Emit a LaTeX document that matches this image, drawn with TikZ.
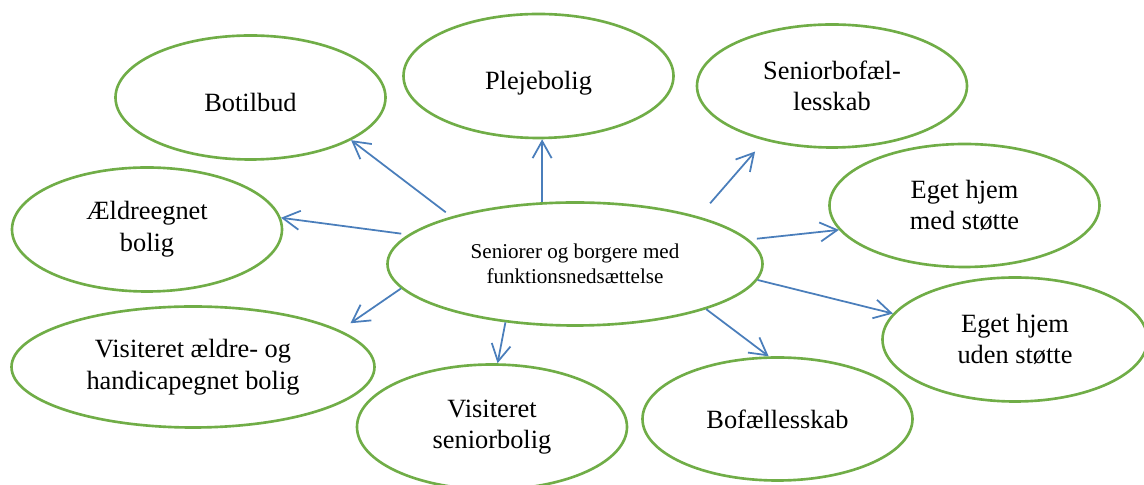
\documentclass[tikz,border=0pt]{standalone}
\usepackage{fontspec}
\setmainfont{Liberation Serif}
\usepackage{tikz}
\usetikzlibrary{shapes.geometric,arrows.meta}
\definecolor{ovalgreen}{RGB}{112,173,71}
\definecolor{arrowblue}{RGB}{74,126,187}

\begin{document}
\begin{tikzpicture}[
        oval/.style={ellipse,draw=ovalgreen,line width=1.5pt,inner sep=0pt,
            minimum width=5.4cm,minimum height=2.48cm,align=center,
            font=\fontsize{15}{18}\selectfont},
        link/.style={draw=arrowblue,line width=1pt,
            -{Straight Barb[length=0.34cm,width=0.38cm]}}]
                \useasboundingbox (0,0) rectangle (22.88,9.7);

                \node[oval] (botilbud) at (5.01,7.75) {\raisebox{-0.1cm}[\height][\depth]{Botilbud}};
                \node[oval] (pleje) at (10.77,8.18) {\raisebox{-0.14cm}[\height][\depth]{Plejebolig}};
                \node[oval,minimum height=2.46cm] (seniorbo) at (16.64,7.98) {Seniorbofæl-\\lesskab};
                \node[oval] (aeldre) at (2.94,5.11) {Ældreegnet\\bolig};
                \node[oval,minimum width=7.5cm,minimum height=2.46cm,
                    font=\fontsize{12}{14.2}\selectfont] (borger) at (11.5,4.42)
                    {Seniorer og borgere med\\funktionsnedsættelse};
                \node[oval,minimum height=2.46cm] (medst) at (19.29,5.59) {Eget hjem\\med støtte};
                \node[oval,minimum width=5.3cm,minimum height=2.48cm] (udenst) at (20.3,2.91) {Eget hjem\\uden støtte};
                \node[oval,minimum height=2.46cm] (bofael) at (15.55,1.32) {Bofællesskab};
                \node[oval,minimum height=2.5cm] (visenior) at (9.84,1.16) {Visiteret\\seniorbolig};
                \node[oval,minimum width=7.26cm,minimum height=2.42cm] (viaeldre) at (3.86,2.36)
                    {Visiteret ældre- og\\handicapegnet bolig};

                \draw[link,shorten <=0.14cm] (borger.159) -- (botilbud.-23);
                \draw[link] (borger.118) -- (borger.118 |- pleje.south);
                \draw[link,shorten <=0.35cm,shorten >=0.29cm] (borger.21) -- (seniorbo.219);
                \draw[link,shorten <=0.14cm] (borger.170) -- (aeldre.5);
                \draw[link,shorten <=0.16cm] (borger.8) -- (medst.191);
                \draw[link] (borger.-5) -- (udenst.168);
                \draw[link] (borger.-19) -- (bofael.98);
                \draw[link] (borger.220) -- (visenior.85);
                \draw[link,shorten >=0.25cm] (borger.188) -- (viaeldre.14);
            \end{tikzpicture}
\end{document}
